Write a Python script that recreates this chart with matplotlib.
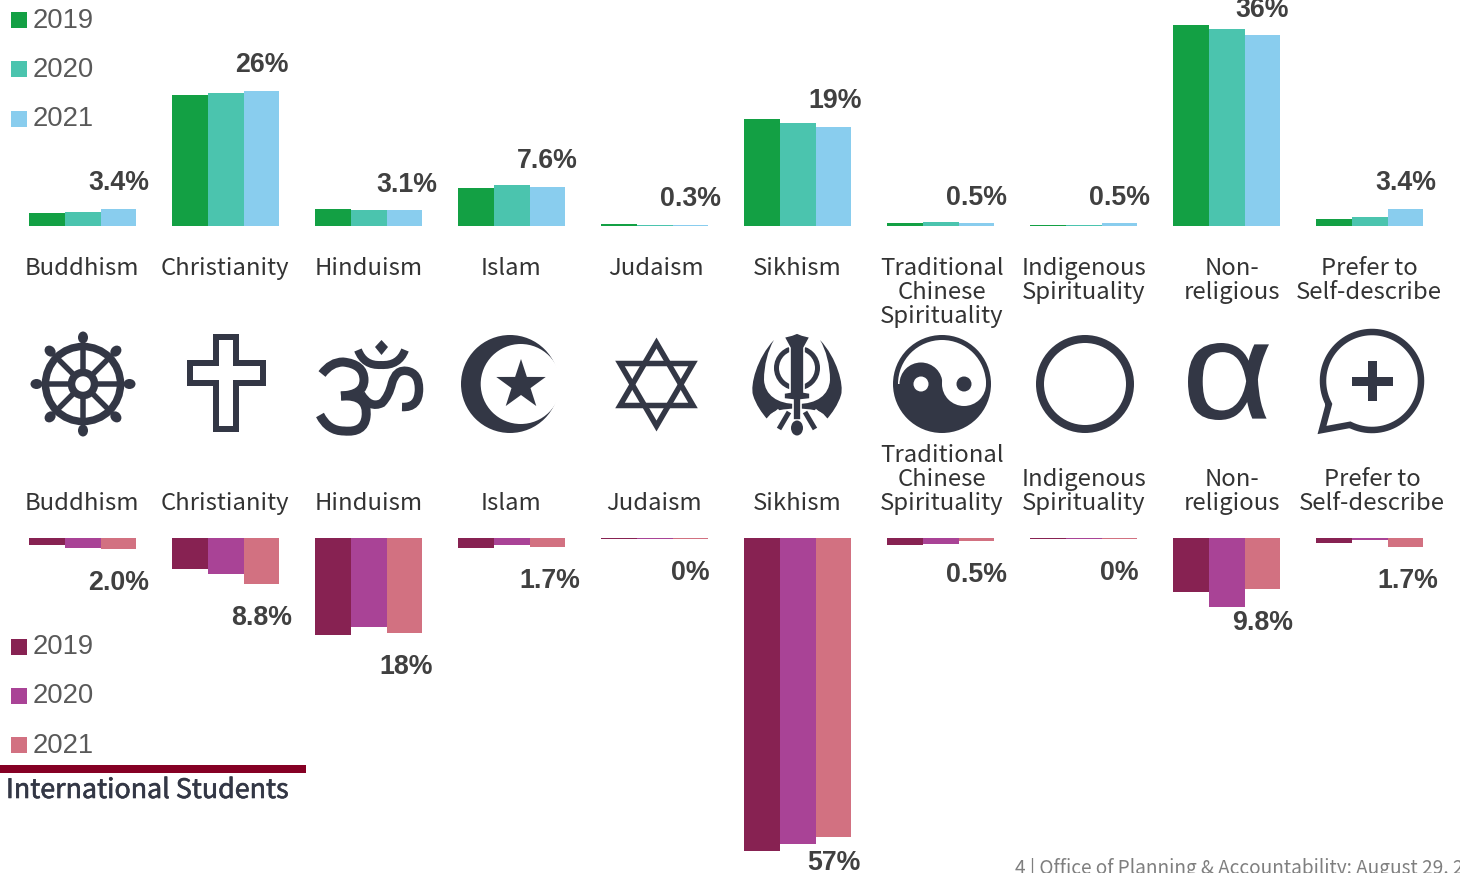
import matplotlib
matplotlib.use('Agg')
import matplotlib.pyplot as plt
import matplotlib.patheffects as pe
import numpy as np
from matplotlib.font_manager import FontProperties
from matplotlib.patches import Circle, Ellipse, PathPatch, Polygon, Rectangle, Wedge
from matplotlib.path import Path
from matplotlib.textpath import TextPath
from matplotlib.transforms import Affine2D

W, H = 1460, 873
DARK = '#333745'
BODY_FONT = 'Noto Sans CJK SC'
NUM_FONT = 'Liberation Sans'

# Data
religions = ['Buddhism', 'Christianity', 'Hinduism', 'Islam', 'Judaism', 'Sikhism',
             'Traditional', 'Indigenous', 'Non-religious', 'Prefer to']
years = ['2019', '2020', '2021']

domestic_2019 = [2.5, 24.7, 3.2, 7.2, 0.3, 20.2, 0.5, 0.1, 37.9, 1.4]
domestic_2020 = [2.6, 25.1, 3.1, 7.7, 0.2, 19.4, 0.8, 0.1, 37.2, 1.7]
domestic_2021 = [3.3, 25.5, 3.0, 7.4, 0.2, 18.7, 0.5, 0.5, 36.0, 3.3]
domestic_labels = ['3.4%', '26%', '3.1%', '7.6%', '0.3%', '19%', '0.5%', '0.5%', '36%', '3.4%']

intl_2019 = [1.4, 5.9, 18.4, 1.9, 0.1, 59.6, 1.3, 0.1, 10.3, 1.0]
intl_2020 = [1.9, 6.9, 17.0, 1.3, 0.1, 58.3, 1.2, 0.1, 13.1, 0.4]
intl_2021 = [2.0, 8.8, 18.0, 1.7, 0.1, 57.0, 0.5, 0.1, 9.7, 1.7]
intl_labels = ['2.0%', '8.8%', '18%', '1.7%', '0%', '57%', '0.5%', '0%', '9.8%', '1.7%']

domestic_colors = ['#13A044', '#4BC4AE', '#89CDEE']
intl_colors = ['#872252', '#A94396', '#D27181']

# category text: x centre, then lines
top_names = [(82, ['Buddhism']), (225, ['Christianity']), (369, ['Hinduism']), (511, ['Islam']),
             (656, ['Judaism']), (797, ['Sikhism']), (942, ['Traditional', 'Chinese', 'Spirituality']),
             (1084, ['Indigenous', 'Spirituality']), (1232, ['Non-', 'religious']),
             (1369, ['Prefer to', 'Self-describe'])]
bottom_names = [(82, ['Buddhism']), (225, ['Christianity']), (369, ['Hinduism']), (511, ['Islam']),
                (654, ['Judaism']), (797, ['Sikhism']), (942, ['Traditional', 'Chinese', 'Spirituality']),
                (1084, ['Indigenous', 'Spirituality']), (1232, ['Non-', 'religious']),
                (1372, ['Prefer to', 'Self-describe'])]

fig = plt.figure(figsize=(W / 100, H / 100), dpi=100, facecolor='white')

x0, step = 82.7, 143.0
xlim = (-x0 / step, (W - x0) / step)
width = 0.25
x = np.arange(len(religions))

# top bars, baseline at y=226px
ax_top = fig.add_axes([0, (H - 226) / H, 1, 226 / H])
ax_top.set_xlim(xlim)
ax_top.set_ylim(0, 226 / 5.3)
ax_top.axis('off')
for k, vals in enumerate([domestic_2019, domestic_2020, domestic_2021]):
    ax_top.bar(x + (k - 1) * width, vals, width=width, color=domestic_colors[k], linewidth=0)

# bottom bars, baseline at y=538px
ax_bot = fig.add_axes([0, 0, 1, (H - 538) / H])
ax_bot.set_xlim(xlim)
ax_bot.set_ylim(335 / 5.25, 0)
ax_bot.axis('off')
for k, vals in enumerate([intl_2019, intl_2020, intl_2021]):
    ax_bot.bar(x + (k - 1) * width, vals, width=width, color=intl_colors[k], linewidth=0)

PX = 0.72  # pixels to points at dpi 100

top_dx = [0, 0, 2, 0, 0, 2, 0, 0, 0, 0]
for i, lab in enumerate(domestic_labels):
    ax_top.annotate(lab, (i + width, domestic_2021[i]), xytext=(top_dx[i] * PX, 25.5 * PX),
                    textcoords='offset points', ha='center', va='center', fontsize=19.3,
                    fontweight='bold', family=NUM_FONT, color='#404040', annotation_clip=False)

bot_dx = [0, 0, 2, 2, 0, 0, 0, 0, 0, 2]
for i, lab in enumerate(intl_labels):
    dy = 26 if lab == '57%' else 34
    ax_bot.annotate(lab, (i + width, intl_2021[i]), xytext=(bot_dx[i] * PX, -dy * PX),
                    textcoords='offset points', ha='center', va='center', fontsize=19.3,
                    fontweight='bold', family=NUM_FONT, color='#404040', annotation_clip=False)

# overlay in pixel coordinates for text, legends and icons
ov = fig.add_axes([0, 0, 1, 1], zorder=5)
ov.set_xlim(0, W)
ov.set_ylim(H, 0)
ov.axis('off')
ov.patch.set_alpha(0)

for cx, lines in top_names:
    for j, line in enumerate(lines):
        ov.text(cx, 275 + 24 * j, line, ha='center', va='baseline', fontsize=17.2,
                family=BODY_FONT, color='#333333')
for cx, lines in bottom_names:
    n = len(lines)
    for j, line in enumerate(lines):
        ov.text(cx, 510 - 24 * (n - 1 - j), line, ha='center', va='baseline', fontsize=17.2,
                family=BODY_FONT, color='#333333')

# legends
for yr, col, yc in zip(years, domestic_colors, [19, 68, 118]):
    ov.add_patch(Rectangle((11, yc - 7), 16, 16, color=col, lw=0))
    ov.text(33, yc + 9 - (yc == 118), yr, ha='left', va='baseline', fontsize=19.7,
            family=NUM_FONT, color='#595959')
for yr, col, yc in zip(years, intl_colors, [645, 694, 743]):
    ov.add_patch(Rectangle((11, yc - 6), 16, 16, color=col, lw=0))
    ov.text(33, yc + 9 + (yc == 743), yr, ha='left', va='baseline', fontsize=19.7,
            family=NUM_FONT, color='#595959')

ov.add_patch(Rectangle((0, 765), 306, 8, color='#850024', lw=0))
ov.text(6, 798, 'International Students', ha='left', va='baseline', fontsize=19.3,
        family=BODY_FONT, color=DARK,
        path_effects=[pe.withStroke(linewidth=0.45, foreground=DARK)])
ov.text(1015, 869, '4 | Office of Planning & Accountability: August 29, 2021', ha='left', va='center',
        fontsize=13.7, family=BODY_FONT, color='#7f7f7f', clip_on=True)


def glyph(ch, font, box):
    # fit a font glyph into a pixel box
    tp = TextPath((0, 0), ch, size=100, prop=FontProperties(family=font))
    ext = tp.get_extents()
    bx0, by0, bx1, by1 = box
    tr = (Affine2D().translate(-ext.x0, -ext.y0)
          .scale((bx1 - bx0) / ext.width, -(by1 - by0) / ext.height)
          .translate(bx0, by1))
    ov.add_patch(PathPatch(tr.transform_path(tp), facecolor=DARK, lw=0))


# wheel
cx, cy = 83, 384
ov.add_patch(Circle((cx, cy), 37.5, fill=False, ec=DARK, lw=7.5 * PX))
ov.add_patch(Circle((cx, cy), 11.5, fill=False, ec=DARK, lw=7.5 * PX))
for a in np.arange(8) * np.pi / 4:
    c, s = np.cos(a), np.sin(a)
    ov.plot([cx + 12 * c, cx + 38 * c], [cy + 12 * s, cy + 38 * s], color=DARK, lw=5.5 * PX, solid_capstyle='butt')
    ov.plot([cx + 38 * c, cx + 46 * c], [cy + 38 * s, cy + 46 * s], color=DARK, lw=4 * PX, solid_capstyle='butt')
    ov.add_patch(Ellipse((cx + 46.5 * c, cy + 46.5 * s), 12, 10, angle=np.degrees(a), color=DARK, lw=0))

# cross
ov.add_patch(Polygon([(216, 337), (236, 337), (236, 363), (262.5, 363), (262.5, 383), (236, 383),
                      (236, 429), (216, 429), (216, 383), (190, 383), (190, 363), (216, 363)],
                     closed=True, fill=False, ec=DARK, lw=6 * PX, joinstyle='miter'))


def curve(points, lw=8):
    codes = [Path.MOVETO] + [Path.CURVE3] * (len(points) - 1)
    ov.add_patch(PathPatch(Path(points, codes), fill=False, ec=DARK, lw=lw * PX, capstyle='butt'))


# om
curve([(322, 374), (331, 362), (343, 362), (364, 364), (364, 380), (364, 395), (341, 396)], lw=9)
curve([(341, 396), (369, 394), (366, 417), (364, 433), (344, 431), (328, 431), (320, 415)], lw=9)
curve([(361, 394), (370, 409), (382, 403), (389, 396), (392, 383), (396, 369), (407, 371),
       (419, 373), (419, 389), (419, 408), (402, 407)], lw=8.5)
curve([(358, 350), (364, 366), (381, 365), (399, 366), (405, 350)], lw=8)
ov.add_patch(Polygon([(381.5, 340), (388, 347), (381.5, 355), (375, 347)], color=DARK, lw=0))

# crescent and star
ov.add_patch(Circle((510, 384), 49, color=DARK, lw=0))
ov.add_patch(Circle((520.7, 384), 40, color='white', lw=0))
ang = -np.pi / 2 + np.arange(10) * np.pi / 5
rad = np.where(np.arange(10) % 2 == 0, 26, 10)
ov.add_patch(Polygon(np.column_stack([521 + rad * np.cos(ang), 385 + rad * np.sin(ang)]), color=DARK, lw=0))

# star of david
ov.add_patch(Polygon([(656.5, 343), (693, 405.5), (620, 405.5)], closed=True, fill=False, ec=DARK,
                     lw=5.5 * PX, joinstyle='miter'))
ov.add_patch(Polygon([(656.5, 426), (693, 363.5), (620, 363.5)], closed=True, fill=False, ec=DARK,
                     lw=5.5 * PX, joinstyle='miter'))

# khanda
kc = 797
blade = [(-23, 340), (-40, 358), (-47, 385), (-44, 395),
         (-41, 405), (-35, 413), (-30, 419),
         (-25, 408), (-12, 410), (0, 408),
         (0, 404),
         (-20, 404), (-32, 395), (-33, 380),
         (-33, 365), (-29, 350), (-23, 340)]
blade_codes = [Path.MOVETO] + [Path.CURVE4] * 9 + [Path.LINETO] + [Path.CURVE4] * 6
for sign in (-1, 1):
    verts = [(kc + sign * p[0], p[1]) for p in blade]
    ov.add_patch(PathPatch(Path(verts, blade_codes), color=DARK, lw=0))
ov.add_patch(Ellipse((kc, 368), 41, 40, fill=False, ec=DARK, lw=5 * PX, zorder=3))
ov.add_patch(Polygon([(kc, 333), (kc + 5, 335), (kc + 13, 337), (kc + 7, 348), (kc + 7, 392),
                      (kc + 13, 393), (kc + 13, 399), (kc + 4, 400), (kc + 4, 420),
                      (kc - 4, 420), (kc - 4, 400), (kc - 13, 399), (kc - 13, 393), (kc - 7, 392),
                      (kc - 7, 348), (kc - 13, 337), (kc - 5, 335)], fc=DARK, ec='white', lw=1.2, zorder=4))
ov.add_patch(Ellipse((kc, 428), 12, 15, color=DARK, lw=0, zorder=4))
for sign in (-1, 1):
    ov.plot([kc + sign * 8, kc + sign * 18], [412, 429], color=DARK, lw=5 * PX, solid_capstyle='butt')
    ov.plot([kc + sign * 18, kc + sign * 30], [410, 420], color='white', lw=3 * PX, solid_capstyle='butt')

# yin yang
yy = (942, 384)
ov.add_patch(Circle(yy, 46.5, fc='white', ec=DARK, lw=5 * PX))
ov.add_patch(Wedge(yy, 46, 0, 180, color=DARK, lw=0))
ov.add_patch(Circle((921, 384), 21.5, color=DARK, lw=0))
ov.add_patch(Circle((964, 384), 22, color='white', lw=0))
ov.add_patch(Circle((921, 384), 7.5, color='white', lw=0))
ov.add_patch(Circle((964, 384), 7.5, color=DARK, lw=0))

# empty circle
ov.add_patch(Circle((1085, 384), 45, fill=False, ec=DARK, lw=8 * PX))

# alpha
glyph('\u03b1', 'Liberation Sans', (1188, 343, 1269, 420))

# speech bubble with plus
t = np.radians(np.linspace(116.6, -208.3, 90))
bubble = np.column_stack([1372 + 49 * np.cos(t), 381 + 49 * np.sin(t)])
bubble = np.vstack([bubble, [1322, 430]])
ov.add_patch(Polygon(bubble, closed=True, fill=False, ec=DARK, lw=6.5 * PX, joinstyle='miter'))
ov.add_patch(Rectangle((1352, 377), 41, 9, color=DARK, lw=0))
ov.add_patch(Rectangle((1368, 361), 9, 40, color=DARK, lw=0))

fig.savefig('out.png', dpi=100)
